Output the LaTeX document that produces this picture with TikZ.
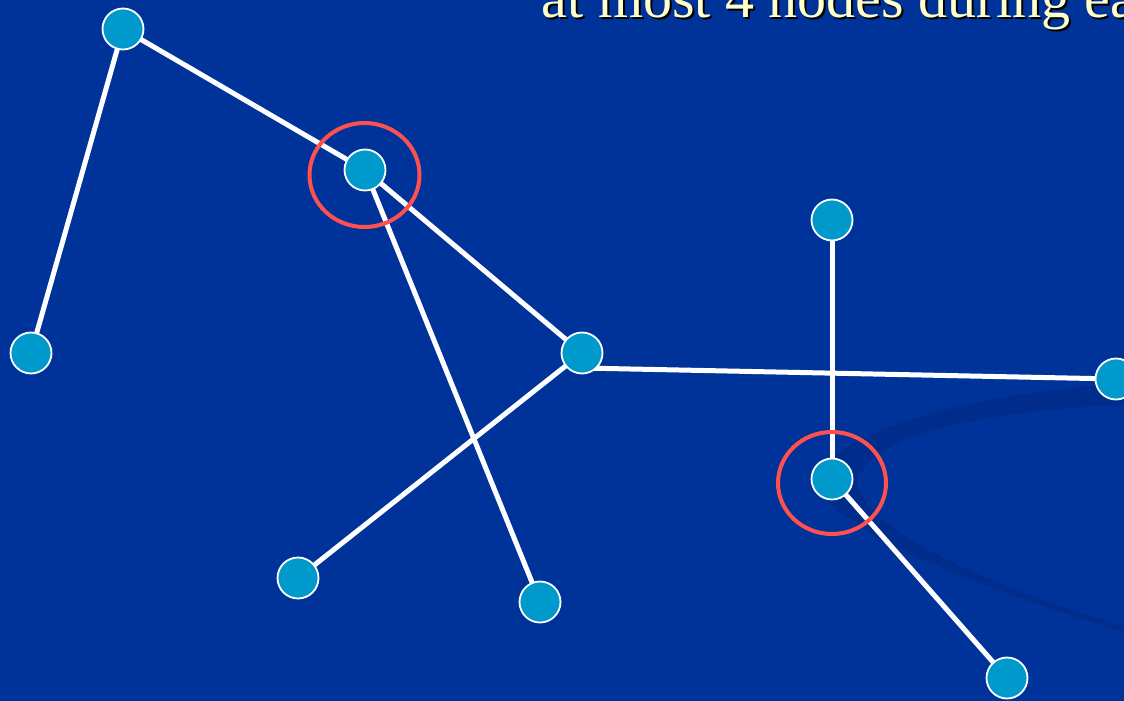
\documentclass[tikz,border=0pt]{standalone}
\usepackage{fontspec}
\setmainfont{Liberation Serif}
\definecolor{bgblue}{RGB}{0,51,153}
\definecolor{swoosh}{RGB}{0,45,140}
\definecolor{nodeblue}{RGB}{0,153,204}
\definecolor{ringred}{RGB}{255,80,80}
\definecolor{cream}{RGB}{255,255,204}
\pgfdeclarelayer{bg}
\pgfdeclarelayer{edgelayer}
\pgfsetlayers{bg,edgelayer,main}
\tikzset{
  vert/.style={circle, fill=nodeblue, draw=white, line width=1.8pt, minimum size=41pt, inner sep=0pt},
  link/.style={draw=white, line width=5pt},
  ring/.style={draw=ringred, line width=4pt},
  title/.style={font=\fontsize{58}{60}\selectfont, anchor=base west, inner sep=0pt}
}
\begin{document}
\begin{tikzpicture}[x=1pt,y=-1pt]
\useasboundingbox (0,0) rectangle (1124,701);
\begin{pgfonlayer}{bg}
  \fill[bgblue] (0,0) rectangle (1124,701);
  \fill[swoosh] (1124,384) .. controls (960,392) and (812,440) .. (818,485)
     .. controls (826,530) and (1000,595) .. (1124,632)
     -- (1124,626) .. controls (1000,590) and (860,530) .. (858,482)
     .. controls (866,432) and (1000,410) .. (1124,405) -- cycle;
\end{pgfonlayer}

\node[title, text=black] (shadow) at (543.5,19.5) {at most 4 nodes during each};
\node[title, text=cream] (title) at (541.5,17.5) {at most 4 nodes during each};

\node[vert] (A) at (123,29) {};
\node[vert] (B) at (365,170) {};
\node[vert] (C) at (832,220) {};
\node[vert] (D) at (31,353) {};
\node[vert] (E) at (582,353) {};
\node[vert] (F) at (1116,379) {};
\node[vert] (G) at (832,479) {};
\node[vert] (H) at (298,578) {};
\node[vert] (I) at (540,602) {};
\node[vert] (J) at (1007,678) {};

\begin{pgfonlayer}{edgelayer}
  \draw[link] (A.center) -- (B.center);
  \draw[link] (A.center) -- (D.center);
  \draw[link] (B.center) -- (E.center);
  \draw[link] (B.center) -- (I.center);
  \draw[link] (E.center) -- (H.center);
  \draw[link] ([yshift=-15pt]E.center) -- (F.center);
  \draw[link] (C.center) -- (G.center);
  \draw[link] (G.center) -- (J.center);
\end{pgfonlayer}

\draw[ring] (B.center) ++(-0.5,5) ellipse [x radius=55, y radius=52];
\draw[ring] (G.center) ++(0,4) ellipse [x radius=54, y radius=51];
\end{tikzpicture}
\end{document}
